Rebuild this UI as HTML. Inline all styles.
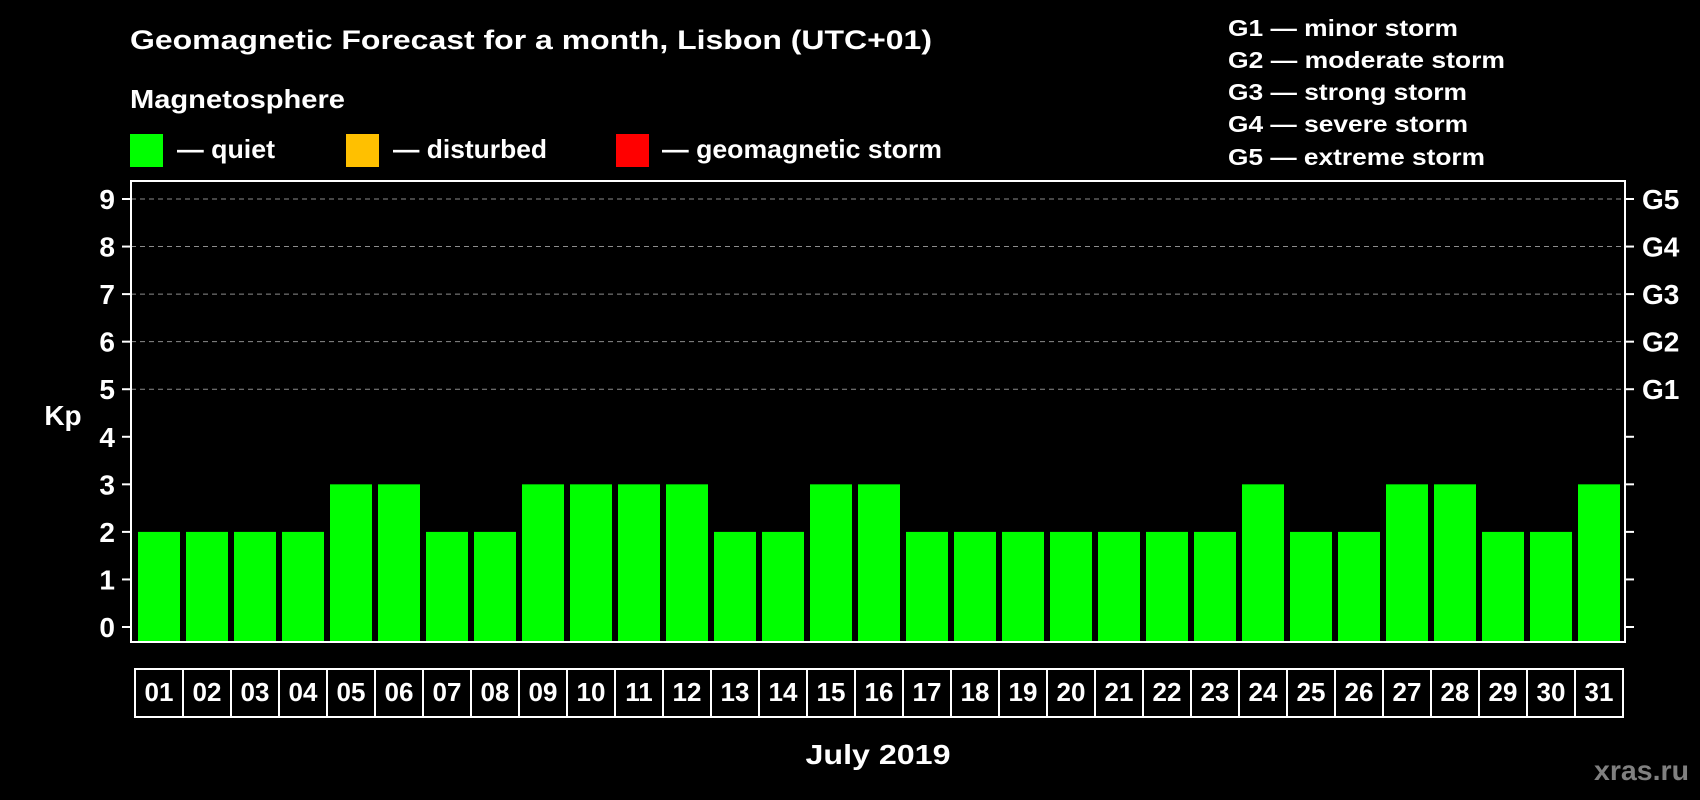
<!DOCTYPE html>
<html><head><meta charset="utf-8"><style>
html,body{margin:0;padding:0;background:#000;}
svg{display:block;font-family:"Liberation Sans",sans-serif;font-weight:bold;}
</style></head><body>
<svg id="chart" width="1700" height="800" viewBox="0 0 1700 800">
<rect x="0" y="0" width="1700" height="800" fill="#000"/>
<text x="130" y="49" font-size="27" fill="#fff" textLength="802" lengthAdjust="spacingAndGlyphs">Geomagnetic Forecast for a month, Lisbon (UTC+01)</text>
<text x="130" y="108" font-size="26" fill="#fff" textLength="215" lengthAdjust="spacingAndGlyphs">Magnetosphere</text>
<g><rect x="130" y="134" width="33" height="33" fill="#00ff00"/><text x="177" y="158" font-size="26" fill="#fff" textLength="98" lengthAdjust="spacingAndGlyphs">— quiet</text></g>
<g><rect x="346" y="134" width="33" height="33" fill="#ffc000"/><text x="393" y="158" font-size="26" fill="#fff" textLength="154" lengthAdjust="spacingAndGlyphs">— disturbed</text></g>
<g><rect x="616" y="134" width="33" height="33" fill="#ff0000"/><text x="662" y="158" font-size="26" fill="#fff" textLength="280" lengthAdjust="spacingAndGlyphs">— geomagnetic storm</text></g>
<g font-size="23" fill="#fff">
<text x="1228" y="36" textLength="230" lengthAdjust="spacingAndGlyphs">G1 — minor storm</text>
<text x="1228" y="68" textLength="277" lengthAdjust="spacingAndGlyphs">G2 — moderate storm</text>
<text x="1228" y="100" textLength="239" lengthAdjust="spacingAndGlyphs">G3 — strong storm</text>
<text x="1228" y="132" textLength="240" lengthAdjust="spacingAndGlyphs">G4 — severe storm</text>
<text x="1228" y="165" textLength="257" lengthAdjust="spacingAndGlyphs">G5 — extreme storm</text>
</g>
<text x="63" y="425" font-size="28" fill="#fff" text-anchor="middle">Kp</text>
<text x="878" y="764" font-size="28" fill="#fff" text-anchor="middle" textLength="145" lengthAdjust="spacingAndGlyphs">July 2019</text>
<text x="1689" y="780" font-size="28" fill="#808080" text-anchor="end" textLength="95" lengthAdjust="spacingAndGlyphs">xras.ru</text>
<g id="grid"></g><g id="bars"></g><g id="axes"></g>
</svg>
<script>
const days = ["01","02","03","04","05","06","07","08","09","10","11","12","13","14","15","16","17","18","19","20","21","22","23","24","25","26","27","28","29","30","31"];
const kpValues = [2,2,2,2,3,3,2,2,3,3,3,3,2,2,3,3,2,2,2,2,2,2,2,3,2,2,3,3,2,2,3];
const yTicks = [0,1,2,3,4,5,6,7,8,9];
const gLevels = [5,6,7,8,9];
const gLabels = ["G1","G2","G3","G4","G5"];

const NS="http://www.w3.org/2000/svg";
const L=131,R=1625,T=181,B=642;
const x0=135, step=(R-2-x0)/days.length;
function y(v){return 627-v*(627-199)/9;}
function xs(i){return x0+i*step;}
function mk(tag,attrs,parent){const e=document.createElementNS(NS,tag);for(const k in attrs)e.setAttribute(k,attrs[k]);parent.appendChild(e);return e;}
const grid=document.getElementById('grid'),bars=document.getElementById('bars'),axes=document.getElementById('axes');
gLevels.forEach((v,i)=>{
 const ln=mk('line',{x1:L,x2:R,y1:y(v),y2:y(v),stroke:'#8c8c8c','stroke-width':1,'stroke-dasharray':'5,4'},grid);
 
 
 const t=mk('text',{x:1642,y:y(v)+10,'font-size':28,fill:'#fff'},axes);
 t.textContent=gLabels[i];
 
 
});
kpValues.forEach((v,i)=>{
 const r=mk('rect',{x:xs(i)+3,y:y(v),width:step-6,height:641-y(v),fill:'#00ff00'},bars);
 
 
});
mk('rect',{x:L,y:T,width:R-L,height:B-T,fill:'none',stroke:'#fff','stroke-width':2},axes);
yTicks.forEach(v=>{
 mk('line',{x1:122,x2:L,y1:y(v),y2:y(v),stroke:'#fff','stroke-width':2},axes);
 mk('line',{x1:R,x2:1634,y1:y(v),y2:y(v),stroke:'#fff','stroke-width':2},axes);
 const t=mk('text',{x:115,y:y(v)+10,'font-size':28,fill:'#fff','text-anchor':'end'},axes);
 t.textContent=v;
 
 
});
days.forEach((d,i)=>{
 const r=mk('rect',{x:xs(i),y:669,width:step,height:48,fill:'none',stroke:'#fff','stroke-width':2},axes);
 
 
 const t=mk('text',{x:xs(i)+step/2,y:701,'font-size':26,fill:'#fff','text-anchor':'middle'},axes);
 t.textContent=d;
 
 
});
</script>
</body></html>
